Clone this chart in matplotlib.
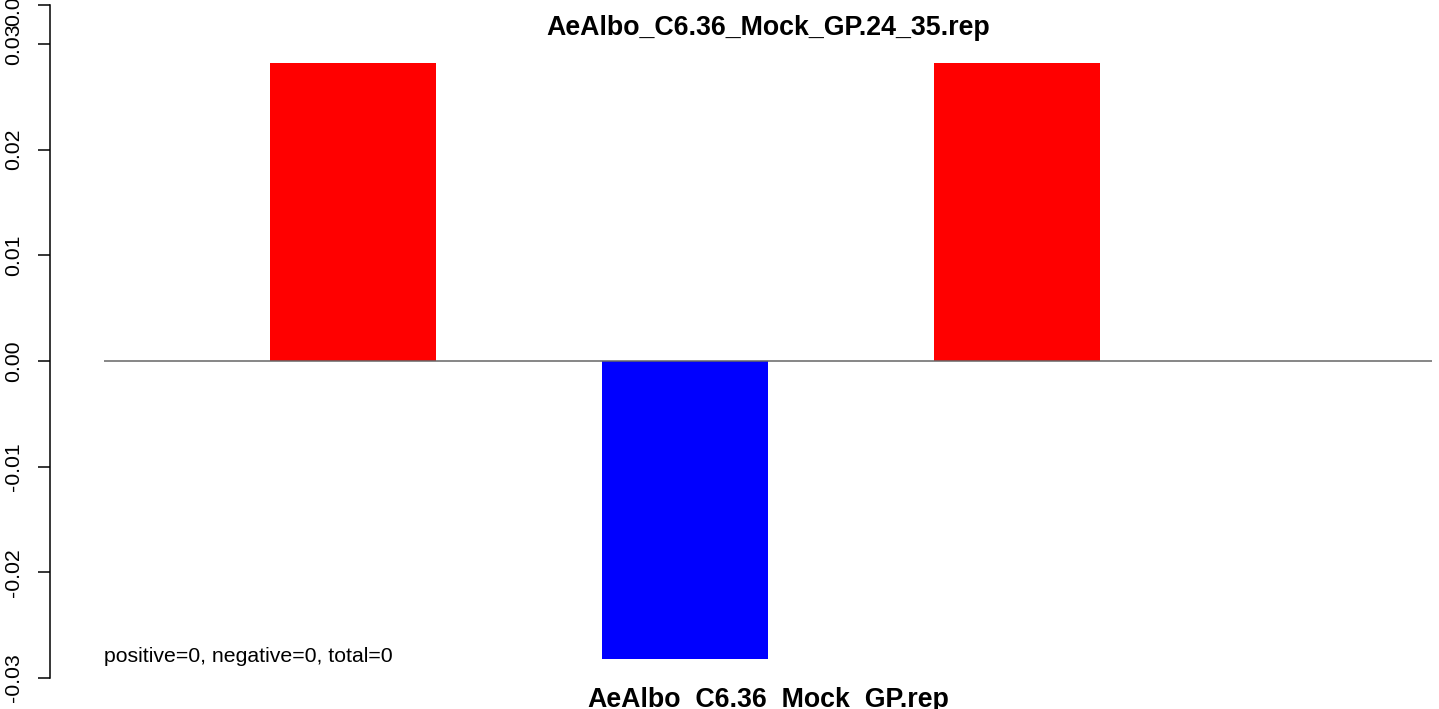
import matplotlib
matplotlib.use("Agg")
import matplotlib.pyplot as plt
import numpy as np

# data
bar_values = [0.0282, -0.0282, 0.0282, 0.0]
y_ticks = [-0.03, -0.02, -0.01, 0.00, 0.01, 0.02, 0.03, 0.03368]
y_lim = (-0.03, 0.03368)
title = "AeAlbo_C6.36_Mock_GP.24_35.rep"
xlabel = "AeAlbo_C6.36_Mock_GP.rep"
note = "positive=0, negative=0, total=0"

plt.rcParams['font.family'] = ['Liberation Sans', 'DejaVu Sans']

W, H = 1439, 709
fig = plt.figure(figsize=(W / 100, H / 100), dpi=100)
ax = fig.add_axes([104 / W, (H - 678) / H, (1432 - 104) / W, (678 - 5) / H])

x = np.arange(len(bar_values))
colors = ['red' if v > 0 else 'blue' for v in bar_values]
ax.bar(x, bar_values, width=0.5, color=colors, linewidth=0)
ax.axhline(0, color='#666666', lw=1.1)

ax.set_xlim(-0.75, len(bar_values) - 0.75)
ax.set_ylim(*y_lim)

for s in ['top', 'right', 'bottom']:
    ax.spines[s].set_visible(False)
# R draws the axis away from the plot region (54 px at 100 dpi)
ax.spines['left'].set_position(('outward', 54 * 0.72))
ax.spines['left'].set_bounds(*y_lim)
ax.spines['left'].set_linewidth(1.1)
ax.set_xticks([])
ax.set_yticks(y_ticks)
ax.set_yticklabels(["%.2f" % t if abs(t) > 1e-9 else "0.00" for t in y_ticks],
                   rotation=90, va='center')
ax.tick_params(axis='y', length=8.6, width=1.1, pad=11, labelsize=15.3)

fig.text(768 / W, 1 - 28 / H, title, ha='center', va='center',
         fontsize=19.3, fontweight='bold')
fig.text(768 / W, 1 - 700 / H, xlabel, ha='center', va='center',
         fontsize=19.3, fontweight='bold')
fig.text(104 / W, 1 - 656 / H, note, ha='left', va='center', fontsize=15.3)

fig.savefig("out.png", dpi=100)
